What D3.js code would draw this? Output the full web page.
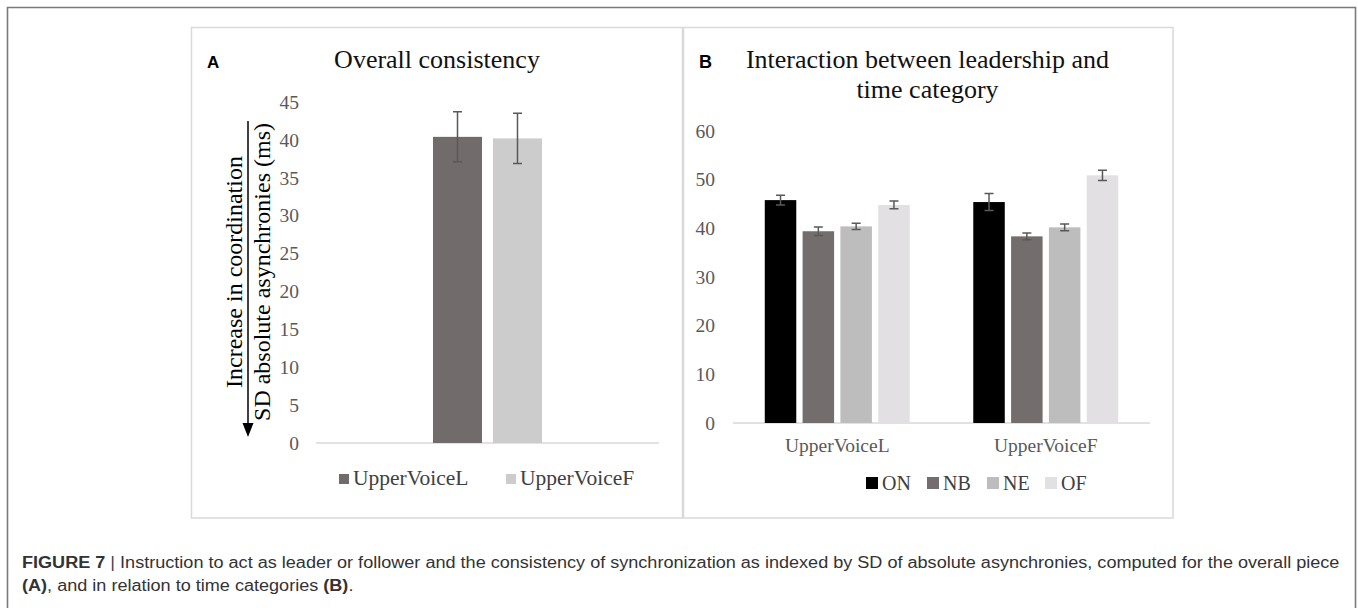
<!DOCTYPE html>
<html>
<head>
<meta charset="utf-8">
<script src="https://cdn.jsdelivr.net/npm/d3@7"></script>
<style>
  html, body { margin: 0; padding: 0; background: #fff; }
  svg { display: block; }
</style>
</head>
<body>
<div id="chart"></div>
<script>
// Panel A: overall consistency
const seriesA = ['UpperVoiceL', 'UpperVoiceF'];
const meansA = [40.4, 40.2];
const errorsA = [3.3, 3.3];
const ticksA = [0, 5, 10, 15, 20, 25, 30, 35, 40, 45];

// Panel B: leadership x time category
const categoriesB = ['UpperVoiceL', 'UpperVoiceF'];
const seriesB = ['ON', 'NB', 'NE', 'OF'];
const onMeans = [45.8, 45.4];
const nbMeans = [39.4, 38.35];
const neMeans = [40.4, 40.2];
const ofMeans = [44.8, 50.9];
const onErrors = [1.0, 1.75];
const nbErrors = [0.85, 0.7];
const neErrors = [0.65, 0.7];
const ofErrors = [0.8, 1.05];
const ticksB = [0, 10, 20, 30, 40, 50, 60];

const colorsA = ['#716b6b', '#cccccc'];
const colorsB = ['#000000', '#736d6d', '#bdbdbd', '#e3e0e4'];

const serif = '"Liberation Serif", "Times New Roman", serif';
const sans = '"Liberation Sans", Arial, sans-serif';

const W = 1358, H = 608;
const svg = d3.select('#chart').append('svg')
  .attr('width', W).attr('height', H);

// outer figure frame (open at the bottom)
svg.append('path')
  .attr('d', `M7.5,${H} V7.5 H1355.5 V${H}`)
  .attr('fill', 'none').attr('stroke', '#7a7a7a').attr('stroke-width', 1.6);

// panel frames
svg.append('rect').attr('x', 191.5).attr('y', 27.5).attr('width', 491).attr('height', 490.5)
  .attr('fill', 'none').attr('stroke', '#d9d9d9').attr('stroke-width', 1.5);
svg.append('rect').attr('x', 683.5).attr('y', 27.5).attr('width', 489.5).attr('height', 490.5)
  .attr('fill', 'none').attr('stroke', '#d9d9d9').attr('stroke-width', 1.5);

// ---------- Panel A ----------
const gA = svg.append('g');
const yA = d3.scaleLinear().domain([0, 45]).range([443, 102]);
const xA = d3.scaleBand().domain(seriesA).range([316, 659]).paddingInner(0.183).paddingOuter(1.95);

gA.append('text').attr('x', 207).attr('y', 68)
  .attr('font-family', sans).attr('font-weight', 'bold').attr('font-size', 17).text('A');
gA.append('text').attr('x', 437).attr('y', 68).attr('text-anchor', 'middle')
  .attr('font-family', serif).attr('font-size', 26).attr('fill', '#111').text('Overall consistency');

gA.append('g').attr('transform', 'translate(316,0)')
  .call(d3.axisLeft(yA).tickValues(ticksA).tickSize(0).tickPadding(17))
  .call(g => g.select('.domain').remove())
  .selectAll('text').attr('font-family', serif).attr('font-size', 19.5).attr('fill', '#595959');

gA.append('line').attr('x1', 316).attr('x2', 659).attr('y1', yA(0)).attr('y2', yA(0))
  .attr('stroke', '#d9d9d9').attr('stroke-width', 1.5);

gA.selectAll('rect.bar').data(seriesA).enter().append('rect')
  .attr('class', 'bar')
  .attr('x', d => xA(d)).attr('width', xA.bandwidth())
  .attr('y', (d, i) => yA(meansA[i])).attr('height', (d, i) => yA(0) - yA(meansA[i]))
  .attr('fill', (d, i) => colorsA[i]);

seriesA.forEach((s, i) => {
  const cx = xA(s) + xA.bandwidth() / 2;
  const top = yA(meansA[i] + errorsA[i]), bot = yA(meansA[i] - errorsA[i]);
  const p = `M${cx},${top}V${bot}M${cx - 4.5},${top}H${cx + 4.5}M${cx - 4.5},${bot}H${cx + 4.5}`;
  gA.append('path').attr('d', p).attr('stroke', '#595959').attr('stroke-width', 1.5).attr('fill', 'none');
});

// y title with arrow
const arrowX = 248;
gA.append('line').attr('x1', arrowX).attr('x2', arrowX).attr('y1', 121).attr('y2', 426)
  .attr('stroke', '#000').attr('stroke-width', 1.5);
gA.append('path').attr('d', `M${arrowX - 5.5},423 L${arrowX + 5.5},423 L${arrowX},437 Z`).attr('fill', '#000');
gA.append('text').attr('transform', 'translate(242,272) rotate(-90)').attr('text-anchor', 'middle')
  .attr('font-family', serif).attr('font-size', 24).text('Increase in coordination');
gA.append('text').attr('transform', 'translate(270,272) rotate(-90)').attr('text-anchor', 'middle')
  .attr('font-family', serif).attr('font-size', 24).text('SD absolute asynchronies (ms)');

// legend A
const legAx = [339, 506];
seriesA.forEach((s, i) => {
  gA.append('rect').attr('x', legAx[i]).attr('y', 474).attr('width', 10).attr('height', 10).attr('fill', colorsA[i]);
  gA.append('text').attr('x', legAx[i] + 14).attr('y', 485)
    .attr('font-family', serif).attr('font-size', 21.5).attr('fill', '#404040').text(s);
});

// ---------- Panel B ----------
const gB = svg.append('g');
const yB = d3.scaleLinear().domain([0, 60]).range([423, 131]);
const x0 = d3.scaleBand().domain(categoriesB).range([733, 1150]);
const x1 = d3.scaleBand().domain(seriesB).range([0, x0.bandwidth()]).paddingInner(0.167).paddingOuter(0.84);
const meansB = [onMeans, nbMeans, neMeans, ofMeans];
const errorsB = [onErrors, nbErrors, neErrors, ofErrors];

gB.append('text').attr('x', 699).attr('y', 68)
  .attr('font-family', sans).attr('font-weight', 'bold').attr('font-size', 18).text('B');
gB.append('text').attr('x', 927.5).attr('y', 68).attr('text-anchor', 'middle')
  .attr('font-family', serif).attr('font-size', 26).attr('fill', '#111').text('Interaction between leadership and');
gB.append('text').attr('x', 927.5).attr('y', 98).attr('text-anchor', 'middle')
  .attr('font-family', serif).attr('font-size', 26).attr('fill', '#111').text('time category');

gB.append('g').attr('transform', 'translate(733,0)')
  .call(d3.axisLeft(yB).tickValues(ticksB).tickSize(0).tickPadding(18))
  .call(g => g.select('.domain').remove())
  .selectAll('text').attr('font-family', serif).attr('font-size', 19.5).attr('fill', '#595959');

gB.append('g').attr('transform', `translate(0,${yB(0)})`)
  .call(d3.axisBottom(x0).tickSize(0).tickPadding(15))
  .call(g => g.select('.domain').remove())
  .selectAll('text').attr('font-family', serif).attr('font-size', 19.5).attr('fill', '#595959');

gB.append('line').attr('x1', 733).attr('x2', 1150).attr('y1', yB(0)).attr('y2', yB(0))
  .attr('stroke', '#d9d9d9').attr('stroke-width', 1.5);

const groups = gB.selectAll('g.grp').data(categoriesB).enter().append('g')
  .attr('class', 'grp').attr('transform', d => `translate(${x0(d)},0)`);

groups.each(function (cat, ci) {
  const g = d3.select(this);
  seriesB.forEach((s, si) => {
    const v = meansB[si][ci], e = errorsB[si][ci];
    g.append('rect').attr('x', x1(s)).attr('width', x1.bandwidth())
      .attr('y', yB(v)).attr('height', yB(0) - yB(v)).attr('fill', colorsB[si]);
    const cx = x1(s) + x1.bandwidth() / 2;
    const top = yB(v + e), bot = yB(v - e);
    g.append('path')
      .attr('d', `M${cx},${top}V${bot}M${cx - 4.5},${top}H${cx + 4.5}M${cx - 4.5},${bot}H${cx + 4.5}`)
      .attr('stroke', '#595959').attr('stroke-width', 1.5).attr('fill', 'none');
  });
});

// legend B
const legBx = [866, 927, 987, 1045];
seriesB.forEach((s, i) => {
  gB.append('rect').attr('x', legBx[i]).attr('y', 477).attr('width', 12).attr('height', 12).attr('fill', colorsB[i]);
  gB.append('text').attr('x', legBx[i] + 16).attr('y', 490)
    .attr('font-family', serif).attr('font-size', 20).attr('fill', '#404040').text(s);
});

// ---------- caption ----------
// condensed font, squeezed/stretched so the first line ends where the reference's does
const capFont = '"Liberation Sans Narrow", "Arial Narrow", "Liberation Sans", sans-serif';
const capG = svg.append('g');
const cap1 = capG.append('text').attr('x', 0).attr('y', 568)
  .attr('font-family', capFont).attr('font-size', 16).attr('fill', '#333');
cap1.append('tspan').attr('font-weight', 'bold').text('FIGURE 7');
cap1.append('tspan').attr('fill', '#444').text(' | ');
cap1.append('tspan').text('Instruction to act as leader or follower and the consistency of synchronization as indexed by SD of absolute asynchronies, computed for the overall piece');

const cap2 = capG.append('text').attr('x', 0).attr('y', 591)
  .attr('font-family', capFont).attr('font-size', 16).attr('fill', '#333');
cap2.append('tspan').attr('font-weight', 'bold').text('(A)');
cap2.append('tspan').text(', and in relation to time categories ');
cap2.append('tspan').attr('font-weight', 'bold').text('(B)');
cap2.append('tspan').text('.');

const k = 1318 / cap1.node().getComputedTextLength();
capG.attr('transform', `translate(22,0) scale(${k},1)`);
</script>
</body>
</html>
